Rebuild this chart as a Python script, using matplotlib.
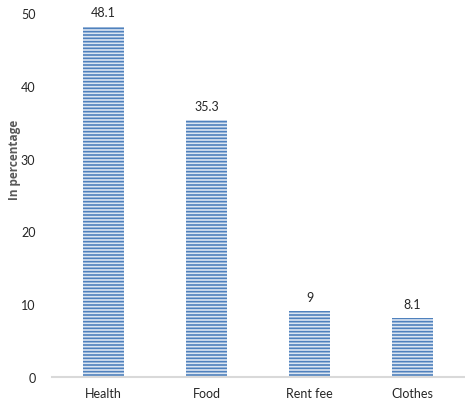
import matplotlib
matplotlib.use("Agg")
import matplotlib.pyplot as plt
import numpy as np

# expenditure shares (%)
categories = ["Health", "Food", "Rent fee", "Clothes"]
shares = [48.1, 35.3, 9, 8.1]
share_labels = ["48.1", "35.3", "9", "8.1"]
y_ticks = [0, 10, 20, 30, 40, 50]

plt.rcParams["font.family"] = ["Lato", "DejaVu Sans"]
plt.rcParams["hatch.linewidth"] = 1.2

fig = plt.figure(figsize=(4.65, 4.1), dpi=100)
ax = fig.add_axes([0.112, 0.078, 0.886, 0.888])

x = np.arange(len(categories))
bars = ax.bar(x, shares, width=0.39, color="#dce6f2", edgecolor="#4f81bd",
              linewidth=0, hatch="-----")

for rect, txt in zip(bars, share_labels):
    ax.annotate(txt, (rect.get_x() + rect.get_width() / 2, rect.get_height()),
                xytext=(0, 6), textcoords="offset points", ha="center",
                va="bottom", fontsize=9, color="#262626")

ax.set_xlim(-0.5, len(categories) - 0.5)
ax.set_ylim(0, 50)
ax.set_xticks(x)
ax.set_xticklabels(categories, fontsize=9, color="#262626")
ax.set_yticks(y_ticks)
ax.set_yticklabels([str(v) for v in y_ticks], fontsize=9, color="#262626")
ax.tick_params(length=0, pad=7)
ax.tick_params(axis="y", pad=12)

for side in ["top", "right", "left"]:
    ax.spines[side].set_visible(False)
ax.spines["bottom"].set_color("#d9d9d9")
ax.spines["bottom"].set_linewidth(1.5)

ax.set_ylabel("In percentage", fontsize=8.5, fontweight="bold", color="#595959",
              family=["Open Sans", "DejaVu Sans"])
ax.yaxis.set_label_coords(-0.075, 0.6)

fig.savefig("out.png", dpi=100)
